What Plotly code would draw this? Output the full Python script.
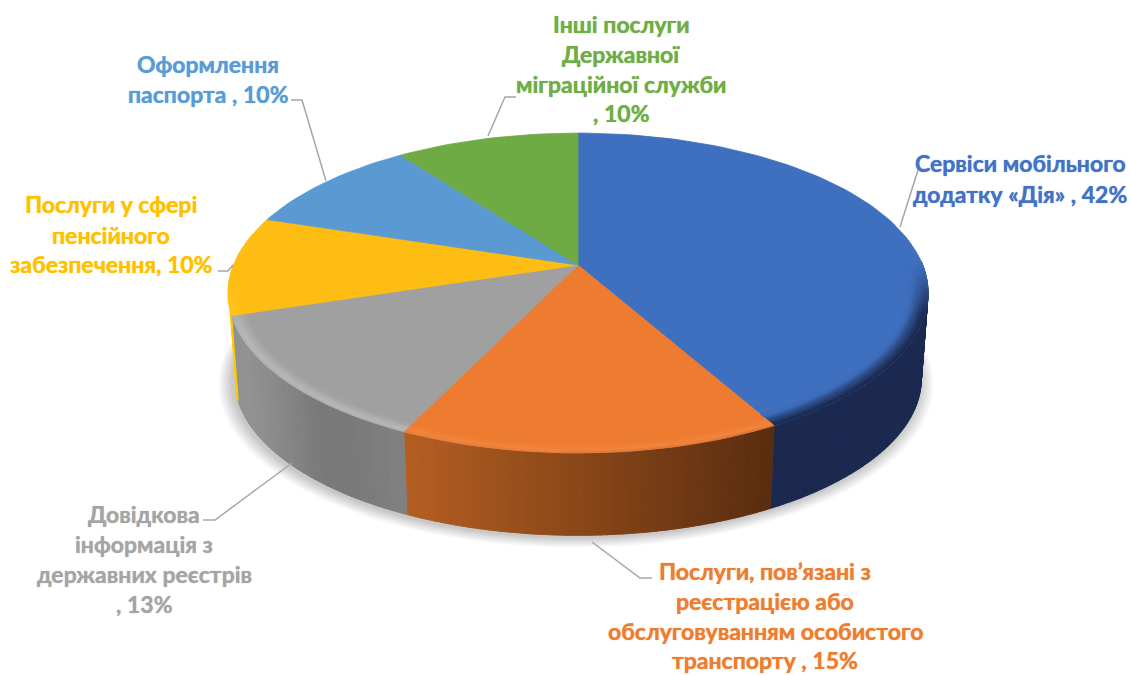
import math
import plotly.graph_objects as go

# ---------- data ----------
categories = [
    "Сервіси мобільного додатку «Дія»",
    "Послуги, пов’язані з реєстрацією або обслуговуванням особистого транспорту",
    "Довідкова інформація з державних реєстрів",
    "Послуги у сфері пенсійного забезпечення",
    "Оформлення паспорта",
    "Інші послуги Державної міграційної служби",
]
values = [42, 15, 13, 10, 10, 10]
label_lines = [
    ["Сервіси мобільного", "додатку «Дія» , 42%"],
    ["Послуги, пов’язані з", "реєстрацією або", "обслуговуванням особистого", "транспорту , 15%"],
    ["Довідкова", "інформація з", "державних реєстрів", ", 13%"],
    ["Послуги у сфері", "пенсійного", "забезпечення, 10%"],
    ["Оформлення", "паспорта , 10%"],
    ["Інші послуги", "Державної", "міграційної служби", ", 10%"],
]

# ---------- styles / layout ----------
W, H = 1131, 675
FONT = "Lato"
FONT_SIZE = 23
face_colors = ["#3F6FBF", "#ED7B30", "#A0A0A0", "#FDBD12", "#5A99D2", "#6FAB45"]
text_colors = ["#4472C4", "#ED7D31", "#A5A5A5", "#FFC000", "#5B9BD5", "#70AD47"]
highlight = ["#3F6FBF", "#F28640", "#B8B8B8", "#FFC81E", "#5A99D2", "#6FAB45"]
side_left = ["#1B2A50", "#B55F22", "#929292", "#FFC800", "#3F6FA0", "#4F8030"]
side_right = ["#1B2A50", "#5A2D10", "#808080", "#E8AE00", "#3F6FA0", "#4F8030"]
label_pos = [
    (1020, [163, 194]),
    (765, [571, 601, 631, 660]),
    (144, [514, 544, 574, 604]),
    (111, [204, 235, 264]),
    (208, [64, 94]),
    (621, [24, 54, 84, 113]),
]
leaders = [
    [(900, 227), (918, 170), (930, 169)],
    [(592, 542), (640, 578), (652, 578)],
    [(292, 463), (215, 520), (203, 520)],
    [(233, 265), (228, 271), (218, 271)],
    [(326, 181), (302, 100), (291, 100)],
    [(488, 136), (505, 97), (516, 97)],
]
# projection of the disc
CX, CY_TOP, CY_BOT = 578, 265, 351
A_TOP, B_TOP, A_BOT, B_BOT, K = 344.6, 155, 338, 152, 0.175


def proj(theta, r=1.0, bottom=False, scale=1.0, dx=0, dy=0):
    u, v = r * math.sin(theta), r * math.cos(theta)
    w = 1 + K * v
    a, b, cy = (A_BOT, B_BOT, CY_BOT) if bottom else (A_TOP, B_TOP, CY_TOP)
    return CX + dx + scale * a * u / w, cy + dy - scale * b * v / w


def rgb(h):
    return tuple(int(h[i:i + 2], 16) for i in (1, 3, 5))


def mix(c1, c2, t):
    return tuple(a + (b - a) * t for a, b in zip(c1, c2))


def key(c):
    return "#%02X%02X%02X" % tuple(min(255, int(round(x / 2) * 2)) for x in c)


def smooth(e0, e1, x):
    t = max(0.0, min(1.0, (x - e0) / (e1 - e0)))
    return t * t * (3 - 2 * t)


fig = go.Figure()
total = sum(values)
bounds = [0.0]
for val in values:
    bounds.append(bounds[-1] + 2 * math.pi * val / total)

# soft shadow under the disc
n_shadow = 14
for i in range(n_shadow, 0, -1):
    s = 1 + 0.003 * i
    pts = [proj(math.radians(d), bottom=True, scale=s, dx=-2, dy=2 + i * 0.2) for d in range(0, 361, 3)]
    fig.add_trace(go.Scatter(x=[p[0] for p in pts], y=[p[1] for p in pts], mode="lines", fill="toself",
                             fillcolor="rgba(70,70,70,0.02)", line=dict(width=0), hoverinfo="skip", showlegend=False))

groups = {}


def add_poly(color, pts):
    g = groups.setdefault(color, ([], []))
    for p in pts + [pts[0]]:
        g[0].append(p[0])
        g[1].append(p[1])
    g[0].append(None)
    g[1].append(None)


# side wall (only the part that faces the viewer)
for i, val in enumerate(values):
    n = max(4, int(val * 8))
    for j in range(n):
        t0 = bounds[i] + (bounds[i + 1] - bounds[i]) * j / n
        t1 = bounds[i] + (bounds[i + 1] - bounds[i]) * (j + 1) / n
        if math.cos((t0 + t1) / 2) > 0.02:
            continue
        if i == 3 and math.cos((t0 + t1) / 2) > -0.28:
            continue
        x_mid = proj((t0 + t1) / 2)[0]
        if i == 2:
            f = smooth(238, 330, x_mid)
            col = mix(rgb(side_left[i]), (122, 122, 122), f)
            col = mix(col, rgb(side_right[i]), smooth(340, 405, x_mid))
        else:
            lo, hi = proj(bounds[i + 1])[0], proj(bounds[i])[0]
            lo, hi = min(lo, hi), max(lo, hi)
            col = mix(rgb(side_left[i]), rgb(side_right[i]), (x_mid - lo) / (hi - lo) if hi > lo else 0)
        add_poly(key(col), [proj(t0), proj(t1), proj(t1, bottom=True), proj(t0, bottom=True)])

for color, (xs, ys) in groups.items():
    fig.add_trace(go.Scatter(x=xs, y=ys, mode="lines", fill="toself", fillcolor=color,
                             line=dict(color=color, width=1.1), hoverinfo="skip", showlegend=False))

# top faces
for i in range(len(values)):
    n = max(8, values[i] * 2)
    pts = [(CX, CY_TOP)] + [proj(bounds[i] + (bounds[i + 1] - bounds[i]) * j / n) for j in range(n + 1)]
    fig.add_trace(go.Scatter(x=[p[0] for p in pts] + [CX], y=[p[1] for p in pts] + [CY_TOP], mode="lines",
                             fill="toself", fillcolor=face_colors[i], line=dict(color=face_colors[i], width=0.8),
                             name=categories[i], hoverinfo="name", showlegend=False))

# bevelled rim
groups = {}
RADIAL = 8
for i, val in enumerate(values):
    n = max(4, int(val * 3))
    bw = 0.06 if i == 0 else 0.042
    for j in range(n):
        t0 = bounds[i] + (bounds[i + 1] - bounds[i]) * j / n
        t1 = bounds[i] + (bounds[i + 1] - bounds[i]) * (j + 1) / n
        tm = (t0 + t1) / 2
        g = 1 - smooth(-0.45 if i != 0 else -0.35, 0.0 if i != 0 else 0.04, math.cos(tm))
        if g <= 0:
            continue
        x_mid = proj(tm)[0]
        lo, hi = sorted((proj(bounds[i + 1])[0], proj(bounds[i])[0]))
        sc = mix(rgb(side_left[i]), rgb(side_right[i]), (x_mid - lo) / (hi - lo) if hi > lo else 0)
        for k in range(RADIAL):
            a = k / RADIAL
            b = (k + 1) / RADIAL
            m = (a + b) / 2
            if i == 0:
                prof = mix(sc, rgb(face_colors[i]), smooth(0, 0.95, m))
            elif m < 0.25:
                prof = mix(mix(rgb(highlight[i]), sc, 0.2), rgb(highlight[i]), m / 0.25)
            else:
                prof = mix(rgb(highlight[i]), rgb(face_colors[i]), (m - 0.25) / 0.75)
            col = mix(rgb(face_colors[i]), prof, g)
            ra, rb = 1 - bw * a, 1 - bw * b
            add_poly(key(col), [proj(t0, ra), proj(t1, ra), proj(t1, rb), proj(t0, rb)])

for color, (xs, ys) in groups.items():
    fig.add_trace(go.Scatter(x=xs, y=ys, mode="lines", fill="toself", fillcolor=color,
                             line=dict(color=color, width=0.6), hoverinfo="skip", showlegend=False))

# leader lines
for seg in leaders:
    fig.add_trace(go.Scatter(x=[p[0] for p in seg], y=[p[1] for p in seg], mode="lines",
                             line=dict(color="#A6A6A6", width=1.5), hoverinfo="skip", showlegend=False))

# labels
annotations = []
for lines, (x, ys), color in zip(label_lines, label_pos, text_colors):
    for line, y in zip(lines, ys):
        annotations.append(dict(x=x, y=y, xref="x", yref="y", text="<b>%s</b>" % line, showarrow=False,
                                xanchor="center", yanchor="middle",
                                font=dict(family=FONT, size=FONT_SIZE, color=color,
                                          shadow="0 0 1px %s" % color)))

fig.update_layout(
    width=W, height=H, margin=dict(l=0, r=0, t=0, b=0), autosize=False,
    paper_bgcolor="white", plot_bgcolor="white", showlegend=False, annotations=annotations,
    xaxis=dict(range=[0, W], visible=False, fixedrange=True),
    yaxis=dict(range=[H, 0], visible=False, fixedrange=True),
)
fig.write_html("out.html", config=dict(displayModeBar=False, responsive=False),
               post_script="document.body.style.margin='0';document.body.style.overflow='hidden';")
